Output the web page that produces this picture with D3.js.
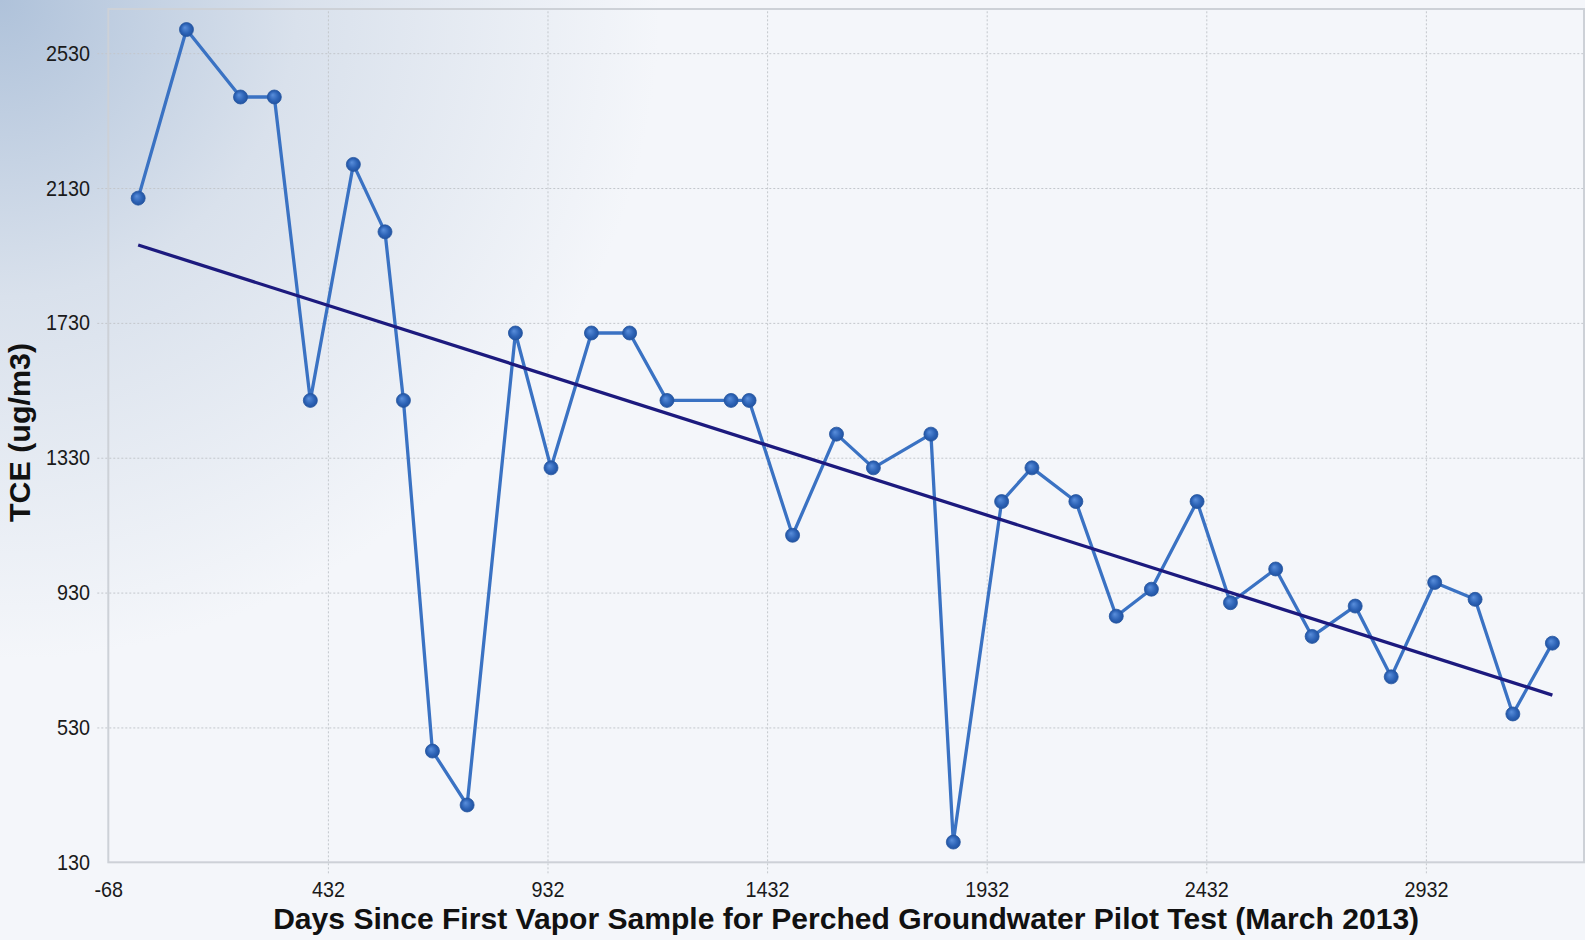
<!DOCTYPE html>
<html>
<head>
<meta charset="utf-8">
<script src="https://cdn.jsdelivr.net/npm/d3@7/dist/d3.min.js"></script>
<style>
  html, body { margin: 0; padding: 0; background: #f4f6fa; }
  svg { display: block; }
</style>
</head>
<body>
<svg id="chart" width="1585" height="940"></svg>
<script>
// ---- data ----
const days = [0, 110, 233, 310, 392, 490, 562, 604, 670, 749,
              859, 940, 1032, 1119, 1204, 1350, 1391, 1490, 1590, 1674,
              1805, 1856, 1966, 2035, 2135, 2227, 2307, 2411, 2487, 2590,
              2673, 2771, 2853, 2952, 3044, 3130, 3220];
const tce = [2100, 2600, 2400, 2400, 1500, 2200, 2000, 1500, 460, 300,
             1700, 1300, 1700, 1700, 1500, 1500, 1500, 1100, 1400, 1300,
             1400, 190, 1200, 1300, 1200, 860, 940, 1200, 900, 1000,
             800, 890, 680, 960, 910, 570, 780];
const trendDays = [0, 3220];
const trendValues = [1961, 626];
const xTicks = [-68, 432, 932, 1432, 1932, 2432, 2932];
const yTicks = [130, 530, 930, 1330, 1730, 2130, 2530];
const xDomain = [-68, 3292];
const yDomain = [130, 2661];
const xTitle = "Days Since First Vapor Sample for Perched Groundwater Pilot Test (March 2013)";
const yTitle = "TCE (ug/m3)";

// ---- layout ----
const W = 1585, H = 940;
const plot = { left: 108.3, top: 9, right: 1584, bottom: 862.3 };
const pw = plot.right - plot.left, ph = plot.bottom - plot.top;

const svg = d3.select("#chart");
const defs = svg.append("defs");

// background gradient from top-left corner
const bg = defs.append("radialGradient").attr("id", "bgGrad")
  .attr("gradientUnits", "userSpaceOnUse")
  .attr("cx", 0).attr("cy", 0).attr("r", 660);
bg.append("stop").attr("offset", "0").attr("stop-color", "#afc2da");
bg.append("stop").attr("offset", "0.45").attr("stop-color", "#d9e1ec");
bg.append("stop").attr("offset", "1").attr("stop-color", "#f4f6fa");
svg.append("rect").attr("width", W).attr("height", H).attr("fill", "url(#bgGrad)");

// marker gradient
const mg = defs.append("radialGradient").attr("id", "mkGrad")
  .attr("cx", "50%").attr("cy", "50%").attr("r", "55%")
  .attr("fx", "38%").attr("fy", "35%");
mg.append("stop").attr("offset", "0").attr("stop-color", "#5a8fdc");
mg.append("stop").attr("offset", "0.6").attr("stop-color", "#2d63b6");
mg.append("stop").attr("offset", "1").attr("stop-color", "#1f4f9c");

const x = d3.scaleLinear().domain(xDomain).range([plot.left, plot.right]);
const y = d3.scaleLinear().domain(yDomain).range([plot.bottom, plot.top]);

const font = "'Liberation Sans', Arial, sans-serif";
const stub = 11;

// bottom axis with dotted gridlines
const xAxis = d3.axisBottom(x).tickValues(xTicks).tickFormat(d => String(d))
  .tickSizeInner(-(ph + stub)).tickSizeOuter(0).tickPadding(8);
const gx = svg.append("g").attr("transform", `translate(0,${plot.bottom + stub})`).call(xAxis);
gx.select(".domain").remove();
gx.selectAll(".tick line")
  .attr("stroke", "#c3c7cc").attr("stroke-width", 1).attr("stroke-dasharray", "2,2")
  .filter(d => d === xTicks[0]).remove();
gx.selectAll(".tick text")
  .attr("font-family", font).attr("font-size", 22).attr("fill", "#1a1a1a")
  .attr("transform", "scale(0.9,1)");

// left axis with dotted gridlines
const yAxis = d3.axisLeft(y).tickValues(yTicks).tickFormat(d => String(d))
  .tickSizeInner(-(pw + stub)).tickSizeOuter(0).tickPadding(8);
const gy = svg.append("g").attr("transform", `translate(${plot.left - stub},0)`).call(yAxis);
gy.select(".domain").remove();
gy.selectAll(".tick line")
  .attr("stroke", "#c3c7cc").attr("stroke-width", 1).attr("stroke-dasharray", "2,2")
  .filter(d => d === yTicks[0]).remove();
gy.selectAll(".tick text")
  .attr("font-family", font).attr("font-size", 22).attr("fill", "#1a1a1a")
  .attr("transform", "scale(0.9,1)");

// plot border
svg.append("rect")
  .attr("x", plot.left).attr("y", plot.top).attr("width", pw).attr("height", ph)
  .attr("fill", "none").attr("stroke", "#cdd1d7").attr("stroke-width", 2);

// data line
const pts = days.map((d, i) => [d, tce[i]]);
const line = d3.line().x(d => x(d[0])).y(d => y(d[1]));
svg.append("path").datum(pts).attr("d", line)
  .attr("fill", "none").attr("stroke", "#3a72c3").attr("stroke-width", 3.3)
  .attr("stroke-linejoin", "round");

// trend line
const trend = trendDays.map((d, i) => [d, trendValues[i]]);
svg.append("path").datum(trend).attr("d", line)
  .attr("fill", "none").attr("stroke", "#1c1a7e").attr("stroke-width", 3.3);

// markers
svg.append("g").selectAll("circle").data(pts).join("circle")
  .attr("cx", d => x(d[0])).attr("cy", d => y(d[1])).attr("r", 7)
  .attr("fill", "url(#mkGrad)").attr("stroke", "#24559f").attr("stroke-width", 0.8);

// axis titles
svg.append("text")
  .attr("x", (plot.left + plot.right) / 2).attr("y", 929)
  .attr("text-anchor", "middle")
  .attr("font-family", font).attr("font-weight", "bold").attr("font-size", 29.5)
  .attr("fill", "#111")
  .attr("textLength", 1146).attr("lengthAdjust", "spacingAndGlyphs")
  .text(xTitle);

svg.append("text")
  .attr("transform", `translate(30,432.5) rotate(-90)`)
  .attr("text-anchor", "middle")
  .attr("font-family", font).attr("font-weight", "bold").attr("font-size", 30)
  .attr("fill", "#111")
  .attr("textLength", 179).attr("lengthAdjust", "spacingAndGlyphs")
  .text(yTitle);
</script>
</body>
</html>
